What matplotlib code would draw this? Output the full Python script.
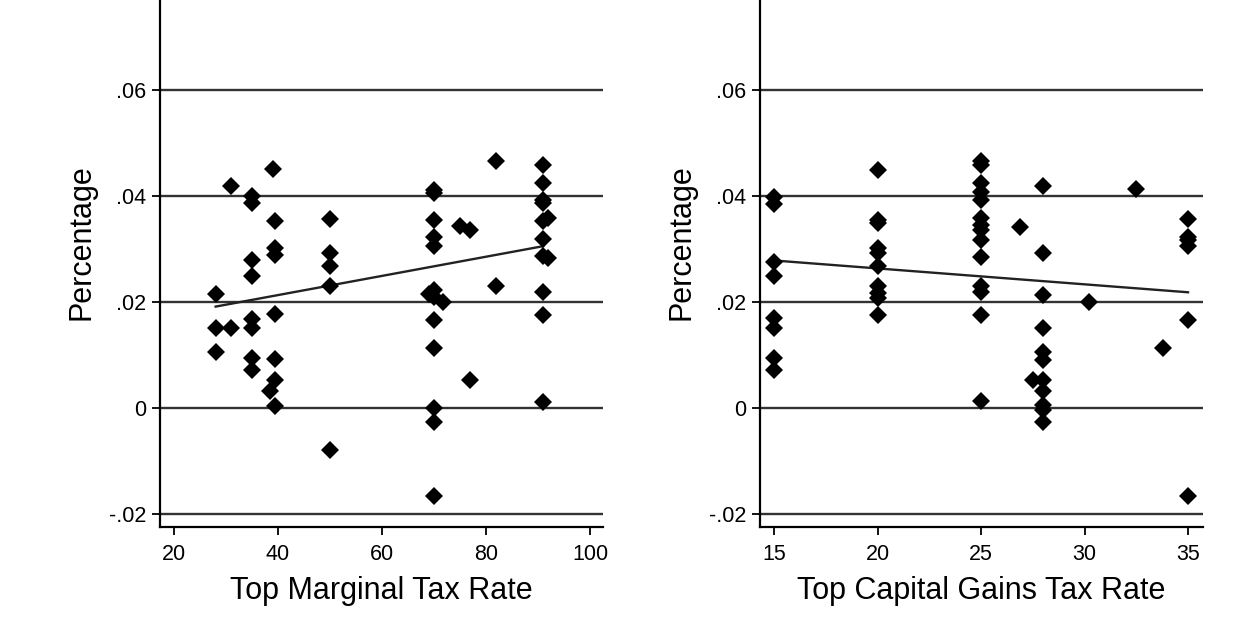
import numpy as np
import matplotlib.pyplot as plt

plt.rcParams['font.family'] = ['Liberation Sans', 'DejaVu Sans']

# Left panel: top marginal tax rate vs percentage
marg_x = [39, 31, 35, 35, 39.4, 39.4, 39.4, 35, 35, 28, 39.4, 35, 35, 28, 31, 28,
          35, 35, 39.4, 38.5, 39.4, 39.4,
          50, 50, 50, 50, 50,
          70, 70, 70, 70, 70, 70, 69, 70, 71.8, 70, 70, 70, 70, 70,
          82, 75, 77, 82, 77,
          91, 91, 91, 91, 92, 91, 91, 91, 92, 91, 91, 91]
marg_y = [0.045, 0.0419, 0.0399, 0.0386, 0.0352, 0.0301, 0.0289, 0.0278, 0.0248, 0.0215,
          0.0177, 0.0168, 0.0150, 0.0150, 0.0150, 0.0105, 0.0094, 0.0072, 0.0092, 0.0031,
          0.0053, 0.0004,
          0.0357, 0.0292, 0.0268, 0.0229, -0.0079,
          0.0411, 0.0405, 0.0355, 0.0322, 0.0306, 0.0223, 0.0215, 0.0210, 0.0199,
          0.0166, 0.0113, -0.0001, -0.0026, -0.0167,
          0.0465, 0.0343, 0.0336, 0.0230, 0.0052,
          0.0458, 0.0424, 0.0392, 0.0386, 0.0358, 0.0352, 0.0318, 0.0286, 0.0282,
          0.0218, 0.0175, 0.0010]
marg_fit_x = [28, 91]
marg_fit_y = [0.0191, 0.0305]

# Right panel: top capital gains tax rate vs percentage
cg_x = [15, 15, 15, 15, 15, 15, 15, 15,
        20, 20, 20, 20, 20, 20, 20, 20, 20, 20,
        25, 25, 25, 25, 25, 25, 25, 25, 25, 25, 25, 25, 25, 25,
        26.9,
        28, 28, 28, 28, 28, 28, 28, 28, 28, 28, 28, 27.5,
        30.2, 32.5, 33.8,
        35, 35, 35, 35, 35, 35]
cg_y = [0.0397, 0.0385, 0.0276, 0.0248, 0.0169, 0.0150, 0.0094, 0.0072,
        0.0449, 0.0355, 0.0348, 0.0301, 0.0292, 0.0268, 0.0229, 0.0216, 0.0207, 0.0175,
        0.0465, 0.0458, 0.0424, 0.0408, 0.0392, 0.0358, 0.0345, 0.0336, 0.0317, 0.0284,
        0.0229, 0.0219, 0.0175, 0.0012,
        0.0342,
        0.0419, 0.0292, 0.0213, 0.0150, 0.0106, 0.0091, 0.0053, 0.0031, 0.0006,
        -0.0004, -0.0026, 0.0052,
        0.0199, 0.0412, 0.0113,
        0.0356, 0.0323, 0.0317, 0.0306, 0.0166, -0.0167]
cg_fit_x = [15, 35]
cg_fit_y = [0.0278, 0.0218]

yticks = [-0.02, 0, 0.02, 0.04, 0.06]
ytick_labels = ['-.02', '0', '.02', '.04', '.06']
marg_xticks = [20, 40, 60, 80, 100]
cg_xticks = [15, 20, 25, 30, 35]

fig = plt.figure(figsize=(12.52, 6.26), dpi=100)
ax1 = fig.add_axes([0.1278, 0.1581, 0.3538, 0.910])
ax2 = fig.add_axes([0.6070, 0.1581, 0.3538, 0.910])

panels = [
    (ax1, marg_x, marg_y, marg_fit_x, marg_fit_y, marg_xticks, (17.3, 102.5), 'Top Marginal Tax Rate'),
    (ax2, cg_x, cg_y, cg_fit_x, cg_fit_y, cg_xticks, (14.32, 35.72), 'Top Capital Gains Tax Rate'),
]

for ax, x, y, fx, fy, xt, xl, xlabel in panels:
    for g in yticks:
        ax.axhline(g, color='#333333', linewidth=1.7, zorder=1)
    ax.plot(x, y, linestyle='none', marker='D', markersize=8.8,
            color='black', markeredgewidth=0, zorder=3)
    ax.plot(fx, fy, color='#222222', linewidth=1.7, zorder=2)
    ax.set_xlim(*xl)
    ax.set_ylim(-0.0225, 0.085)
    ax.set_xticks(xt)
    ax.set_yticks(yticks)
    ax.set_yticklabels(ytick_labels)
    ax.tick_params(axis='both', direction='out', length=6, width=1.3,
                   labelsize=15.5, color='black', pad=4)
    ax.tick_params(axis='x', pad=6)
    ax.spines['top'].set_visible(False)
    ax.spines['right'].set_visible(False)
    ax.spines['left'].set_linewidth(1.6)
    ax.spines['bottom'].set_linewidth(1.6)
    ax.set_xlabel(xlabel, fontsize=22, labelpad=8)
    ax.set_ylabel('Percentage', fontsize=22, labelpad=9)

fig.savefig('out.png', dpi=100, facecolor='white')
